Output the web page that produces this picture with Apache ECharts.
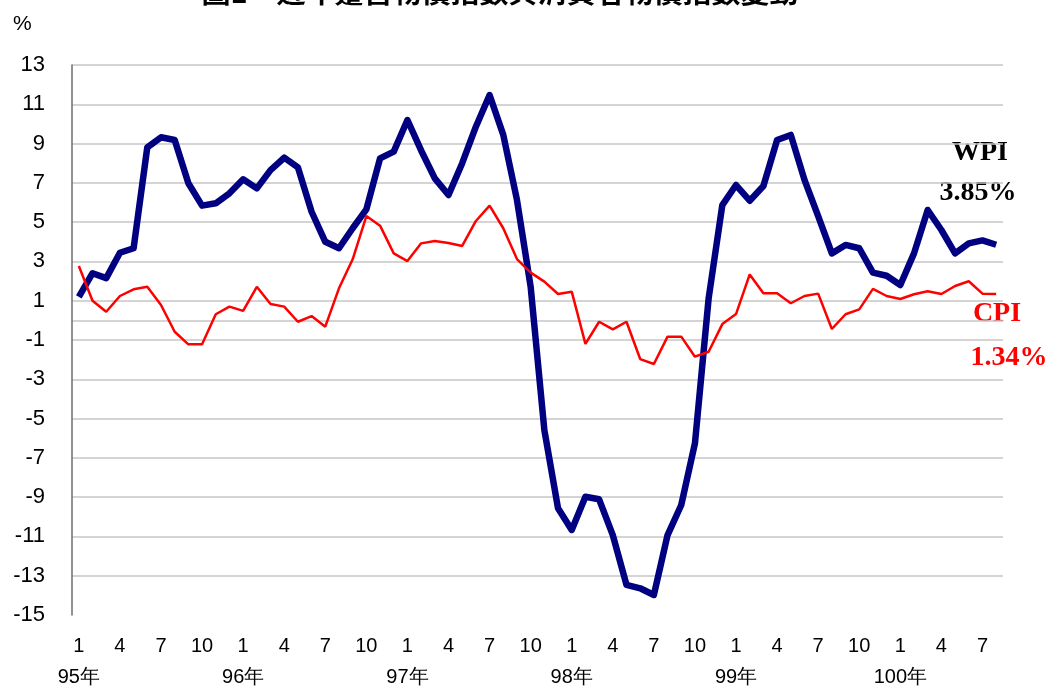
<!DOCTYPE html>
<html>
<head>
<meta charset="utf-8">
<script src="https://cdn.jsdelivr.net/npm/echarts@6/dist/echarts.min.js"></script>
<style>
  html, body { margin: 0; padding: 0; background: #fff; }
  #chart { width: 1052px; height: 688px; }
</style>
</head>
<body>
<div id="chart"></div>
<script>
// 年份與月份
const years = ['95年', '96年', '97年', '98年', '99年', '100年'];
const lastYearMonths = 8;

// WPI 年增率 (%)
const wpi = [
  1.2, 2.4, 2.15, 3.44, 3.67, 8.81, 9.32, 9.18, 6.98, 5.84, 5.96, 6.47,
  7.18, 6.72, 7.65, 8.28, 7.79, 5.53, 4.0, 3.67, 4.69, 5.65, 8.25, 8.59,
  10.2, 8.65, 7.23, 6.38, 8.0, 9.86, 11.47, 9.44, 6.13, 1.71, -5.58, -9.57,
  -10.67, -8.98, -9.11, -10.93, -13.47, -13.64, -13.98, -10.93, -9.4, -6.26, 1.12, 5.87,
  6.89, 6.09, 6.84, 9.18, 9.44, 7.15, 5.31, 3.41, 3.84, 3.67, 2.43, 2.27,
  1.8, 3.41, 5.62, 4.6, 3.41, 3.92, 4.07, 3.85
];

// CPI 年增率 (%)
const cpi = [
  2.77, 1.0, 0.44, 1.24, 1.58, 1.71, 0.78, -0.58, -1.22, -1.22, 0.31, 0.7,
  0.48, 1.71, 0.83, 0.7, -0.07, 0.22, -0.32, 1.63, 3.11, 5.31, 4.82, 3.41,
  3.02, 3.92, 4.04, 3.94, 3.79, 5.06, 5.84, 4.69, 3.12, 2.43, 1.97, 1.34,
  1.46, -1.2, -0.07, -0.46, -0.07, -1.97, -2.22, -0.83, -0.83, -1.85, -1.6, -0.19,
  0.32, 2.34, 1.38, 1.38, 0.87, 1.24, 1.36, -0.44, 0.31, 0.56, 1.6, 1.24,
  1.09, 1.33, 1.48, 1.34, 1.75, 1.99, 1.36, 1.34
];

const yMin = -15;
const yMax = 13;

const categories = [];
years.forEach((y, yi) => {
  const n = yi === years.length - 1 ? lastYearMonths : 12;
  for (let m = 1; m <= n; m++) categories.push(y + '-' + m);
});

// 只在奇數刻度及 0 畫格線
const gridColors = [];
for (let v = yMin; v <= yMax; v++) {
  const show = (Math.abs(v) % 2 === 1 && v !== yMin) || v === 0;
  gridColors.push(show ? '#c6c6c6' : 'rgba(0,0,0,0)');
}

const chart = echarts.init(document.getElementById('chart'));
chart.setOption({
  animation: false,
  backgroundColor: '#fff',
  textStyle: { fontFamily: 'Liberation Sans, Arial, sans-serif' },
  grid: { left: 72, right: 49, top: 65, bottom: 73 },
  xAxis: {
    type: 'category',
    data: categories,
    boundaryGap: true,
    axisLine: { show: false },
    axisTick: { show: false },
    splitLine: { show: false },
    axisLabel: {
      interval: (i) => i % 3 === 0,
      margin: 20,
      color: '#000',
      formatter: (val) => {
        const [y, m] = val.split('-');
        return m === '1' ? '{m|' + m + '}\n{y|' + y + '}' : '{m|' + m + '}';
      },
      rich: {
        m: { fontSize: 20, lineHeight: 22, color: '#000', fontFamily: 'Liberation Sans' },
        y: { fontSize: 20, lineHeight: 40, color: '#000', fontFamily: 'Liberation Sans' }
      }
    }
  },
  yAxis: {
    type: 'value',
    min: yMin,
    max: yMax,
    interval: 1,
    axisLine: { show: true, lineStyle: { color: '#6e6e6e', width: 1.5 } },
    axisTick: { show: false },
    axisLabel: {
      margin: 27,
      fontSize: 22,
      color: '#000',
      formatter: (v) => (Math.abs(v) % 2 === 1 ? String(v) : '')
    },
    splitLine: { show: true, lineStyle: { color: gridColors, width: 1.5 } }
  },
  series: [
    {
      name: 'WPI',
      type: 'line',
      data: wpi,
      symbol: 'none',
      lineStyle: { color: '#000080', width: 6.5, join: 'round' },
      itemStyle: { color: '#000080' }
    },
    {
      name: 'CPI',
      type: 'line',
      data: cpi,
      symbol: 'none',
      lineStyle: { color: '#ff0000', width: 2.5 },
      itemStyle: { color: '#ff0000' }
    }
  ],
  graphic: [
    {
      type: 'text', left: 13, top: 14,
      style: { text: '%', fontSize: 21, fill: '#000', fontFamily: 'Liberation Sans' }
    },
    {
      type: 'text', x: 500, y: 6,
      style: {
        text: '圖1　近年躉售物價指數與消費者物價指數變動',
        fontSize: 29, fontWeight: 'bold', fill: '#000',
        fontFamily: 'Noto Sans CJK TC', align: 'center', verticalAlign: 'bottom'
      }
    },
    {
      type: 'text', x: 980, y: 153,
      style: { text: 'WPI', fontSize: 28, fontWeight: 'bold', fill: '#000',
        fontFamily: 'Liberation Serif', align: 'center', verticalAlign: 'middle' }
    },
    {
      type: 'text', x: 978, y: 193,
      style: { text: '3.85%', fontSize: 28, fontWeight: 'bold', fill: '#000',
        fontFamily: 'Liberation Serif', align: 'center', verticalAlign: 'middle' }
    },
    {
      type: 'text', x: 997, y: 314,
      style: { text: 'CPI', fontSize: 28, fontWeight: 'bold', fill: '#ff0000',
        fontFamily: 'Liberation Serif', align: 'center', verticalAlign: 'middle' }
    },
    {
      type: 'text', x: 1009, y: 358,
      style: { text: '1.34%', fontSize: 28, fontWeight: 'bold', fill: '#ff0000',
        fontFamily: 'Liberation Serif', align: 'center', verticalAlign: 'middle' }
    }
  ]
});
</script>
</body>
</html>
